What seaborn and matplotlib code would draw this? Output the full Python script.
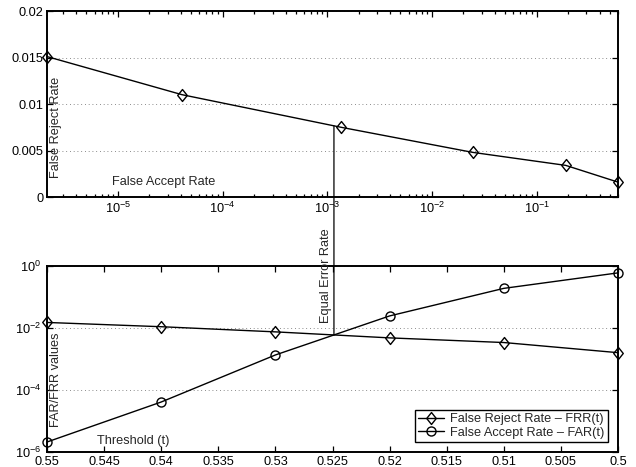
import numpy as np
import pandas as pd
import seaborn as sns
import matplotlib
matplotlib.use("Agg")
import matplotlib.pyplot as plt
from matplotlib.path import Path
from matplotlib.ticker import FixedLocator, FuncFormatter, LogLocator, NullLocator, LogFormatterSciNotation
from matplotlib.patches import ConnectionPatch

# Operating points of the verifier
thresholds = [0.55, 0.54, 0.53, 0.52, 0.51, 0.50]
far = [2.1e-6, 4.1e-5, 1.35e-3, 0.0245, 0.19, 0.6]
frr = [0.0151, 0.0110, 0.0075, 0.0048, 0.0034, 0.0016]

frr_ticks = [0, 0.005, 0.01, 0.015, 0.02]
thr_ticks = [0.55, 0.545, 0.54, 0.535, 0.53, 0.525, 0.52, 0.515, 0.51, 0.505, 0.5]
rate_ticks = [1e-6, 1e-4, 1e-2, 1e0]

sns.set_style("ticks")
plt.rcParams["font.family"] = ["Liberation Sans", "DejaVu Sans"]
plt.rcParams["mathtext.fontset"] = "custom"
plt.rcParams["mathtext.rm"] = "Liberation Sans"
plt.rcParams["mathtext.it"] = "Liberation Sans:italic"
plt.rcParams["axes.linewidth"] = 1.4
plt.rcParams["axes.edgecolor"] = "black"

FS = 9.2
df = pd.DataFrame({"t": thresholds, "FAR": far, "FRR": frr})

W, H = 636, 467
fig = plt.figure(figsize=(W / 100, H / 100), dpi=100)
ax1 = fig.add_axes([47 / W, 1 - 197 / H, 571 / W, 186 / H])
ax2 = fig.add_axes([47 / W, 1 - 452 / H, 571 / W, 186 / H])

# slightly tall open diamond
diamond = Path([(0, 1), (0.8, 0), (0, -1), (-0.8, 0), (0, 1)],
               [Path.MOVETO, Path.LINETO, Path.LINETO, Path.LINETO, Path.CLOSEPOLY])

line_kw = dict(color="black", linewidth=1.0, markerfacecolor="none",
               markeredgecolor="black", markeredgewidth=1.0, estimator=None,
               sort=False, clip_on=False)
DIAMOND = 8.6
CIRCLE = 6.5


def style_ticks(ax):
    ax.tick_params(which="both", direction="in", top=True, right=True,
                   labelsize=FS, colors="black", width=0.9)
    ax.tick_params(which="major", length=4.5, pad=3)
    ax.tick_params(which="minor", length=2.5)
    ax.tick_params(axis="y", which="major", pad=2.5)
    ax.yaxis.grid(True, which="major", linestyle=(0, (1, 3.5)), color="#666666", linewidth=0.6)
    ax.xaxis.grid(False)
    for s in ax.spines.values():
        s.set_visible(True)
        s.set_color("black")
        s.set_zorder(3)


# ---- ROC-like curve: FRR against FAR ----
ax1.set_xscale("log")
sns.lineplot(data=df, x="FAR", y="FRR", ax=ax1, marker=diamond, markersize=DIAMOND, **line_kw)
ax1.set_xlim(far[0], far[-1])
ax1.set_ylim(0, 0.02)
ax1.yaxis.set_major_locator(FixedLocator(frr_ticks))
ax1.yaxis.set_major_formatter(FuncFormatter(lambda v, p: "%g" % v))
ax1.xaxis.set_major_locator(LogLocator(base=10, numticks=12))
ax1.xaxis.set_minor_locator(LogLocator(base=10, subs=np.arange(2, 10), numticks=12))
ax1.xaxis.set_major_formatter(LogFormatterSciNotation())
ax1.set_xlabel("")
ax1.set_ylabel("")
style_ticks(ax1)
ax1.text(0.006, 0.10, "False Reject Rate", rotation=90, transform=ax1.transAxes,
         ha="left", va="bottom", fontsize=FS)
ax1.text(0.114, 0.08, "False Accept Rate", transform=ax1.transAxes,
         ha="left", va="center", fontsize=FS)

# ---- FAR and FRR against threshold ----
ax2.set_yscale("log")
sns.lineplot(data=df, x="t", y="FRR", ax=ax2, marker=diamond, markersize=DIAMOND,
             label="False Reject Rate \u2013 FRR(t)", **line_kw)
sns.lineplot(data=df, x="t", y="FAR", ax=ax2, marker="o", markersize=CIRCLE,
             label="False Accept Rate \u2013 FAR(t)", **line_kw)
ax2.set_xlim(0.55, 0.5)
ax2.set_ylim(1e-6, 1e0)
ax2.xaxis.set_major_locator(FixedLocator(thr_ticks))
ax2.xaxis.set_major_formatter(FuncFormatter(lambda v, p: "%g" % round(v, 3)))
ax2.yaxis.set_major_locator(FixedLocator(rate_ticks))
ax2.yaxis.set_major_formatter(LogFormatterSciNotation())
ax2.yaxis.set_minor_locator(NullLocator())
ax2.set_xlabel("")
ax2.set_ylabel("")
style_ticks(ax2)
ax2.tick_params(axis="y", which="major", pad=4)
ax2.text(0.006, 0.134, "FAR/FRR values", rotation=90, transform=ax2.transAxes,
         ha="left", va="bottom", fontsize=FS)
ax2.text(0.0876, 0.059, "Threshold (t)", transform=ax2.transAxes,
         ha="left", va="center", fontsize=FS)
leg = ax2.legend(loc="lower right", fontsize=FS, frameon=True, fancybox=False,
                 edgecolor="black", framealpha=1, borderaxespad=0.8,
                 handlelength=2.0, handletextpad=0.5, borderpad=0.25, labelspacing=0.1)
leg.get_frame().set_linewidth(1.0)

# ---- Equal error rate: crossing of the two curves (log-linear interpolation) ----
lfar, lfrr = np.log10(far), np.log10(frr)
diff = lfar - lfrr
i = int(np.where(np.sign(diff[:-1]) != np.sign(diff[1:]))[0][0])
frac = -diff[i] / (diff[i + 1] - diff[i])
t_eer = thresholds[i] + frac * (thresholds[i + 1] - thresholds[i])
eer = 10 ** (lfrr[i] + frac * (lfrr[i + 1] - lfrr[i]))

disp_x = ax2.transData.transform((t_eer, eer))[0]
far_at_line = ax1.transData.inverted().transform((disp_x, 0.0))[0]
frr_at_line = np.interp(np.log10(far_at_line), lfar, frr)

con = ConnectionPatch(xyA=(far_at_line, frr_at_line), coordsA=ax1.transData,
                      xyB=(t_eer, eer), coordsB=ax2.transData,
                      color="black", linewidth=0.9)
fig.add_artist(con)
fig.text(disp_x / W - 8 / W, 1 - 323 / H, "Equal Error Rate", rotation=90,
         ha="center", va="bottom", fontsize=FS)

fig.savefig("out.png", dpi=100)
